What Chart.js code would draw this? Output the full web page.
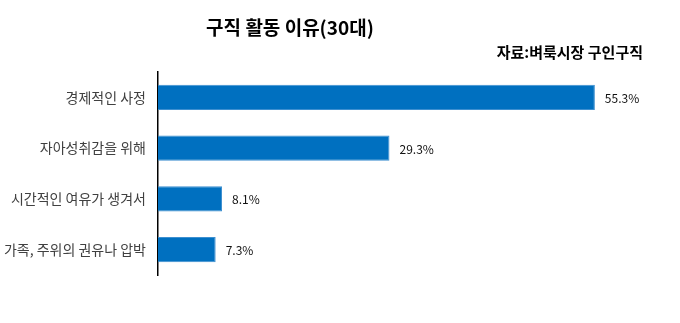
<!DOCTYPE html>
<html>
<head>
<meta charset="utf-8">
<script src="https://cdn.jsdelivr.net/npm/chart.js@4"></script>
<style>
  html, body { margin: 0; padding: 0; background: #fff; }
  #wrap { width: 680px; height: 323px; position: relative; }
</style>
</head>
<body>
<div id="wrap"><canvas id="chartEl"></canvas></div>
<script>
const titleText = '구직 활동 이유(30대)'
const sourceText = '자료:벼룩시장 구인구직'
const categories = ['경제적인 사정', '자아성취감을 위해', '시간적인 여유가 생겨서', '가족, 주위의 권유나 압박']
const values = [55.3, 29.3, 8.1, 7.3]

const fontKr = '"Noto Sans CJK KR", "Noto Sans", sans-serif'

/* titre + source dessinés à la main */
const headerPlugin = {
  id: 'header',
  afterDraw: (chart) => {
    const ctx = chart.ctx
    ctx.save()
    ctx.fillStyle = '#000'
    ctx.textBaseline = 'middle'
    ctx.font = 'bold 19px ' + fontKr
    ctx.textAlign = 'center'
    ctx.fillText(titleText, 290, 28)
    ctx.font = 'bold 15px ' + fontKr
    ctx.textAlign = 'right'
    ctx.fillText(sourceText, 643, 52)
    ctx.restore()
  }
}

/* valeurs au bout des barres */
const valueLabels = {
  id: 'valueLabels',
  afterDatasetsDraw: (chart) => {
    const ctx = chart.ctx
    const meta = chart.getDatasetMeta(0)
    ctx.save()
    ctx.fillStyle = '#111'
    ctx.font = '12px ' + fontKr
    ctx.textAlign = 'left'
    ctx.textBaseline = 'middle'
    meta.data.forEach((bar, i) => {
      ctx.fillText(values[i].toFixed(1) + '%', bar.x + 10, bar.y + 1)
    })
    ctx.restore()
  }
}

new Chart(document.querySelector('#chartEl'), {
  type: 'bar',
  data: {
    labels: categories,
    datasets: [{
      data: values,
      backgroundColor: '#0070C0',
      borderColor: '#3D8FD0',
      borderWidth: 1,
      barPercentage: 0.5,
      categoryPercentage: 1
    }]
  },
  options: {
    indexAxis: 'y',
    responsive: true,
    maintainAspectRatio: false,
    animation: false,
    layout: { padding: { top: 72, bottom: 48, left: 0, right: 48 } },
    plugins: {
      legend: { display: false },
      tooltip: { enabled: false },
      title: { display: false }
    },
    scales: {
      x: { display: false, min: 0, max: 60 },
      y: {
        afterFit: s => { s.width = 158 },
        grid: { display: false, drawTicks: false },
        border: { display: true, color: '#000', width: 1.5 },
        ticks: { color: '#404040', padding: 12, font: { size: 14, family: fontKr } }
      }
    }
  },
  plugins: [headerPlugin, valueLabels]
})
</script>
</body>
</html>
